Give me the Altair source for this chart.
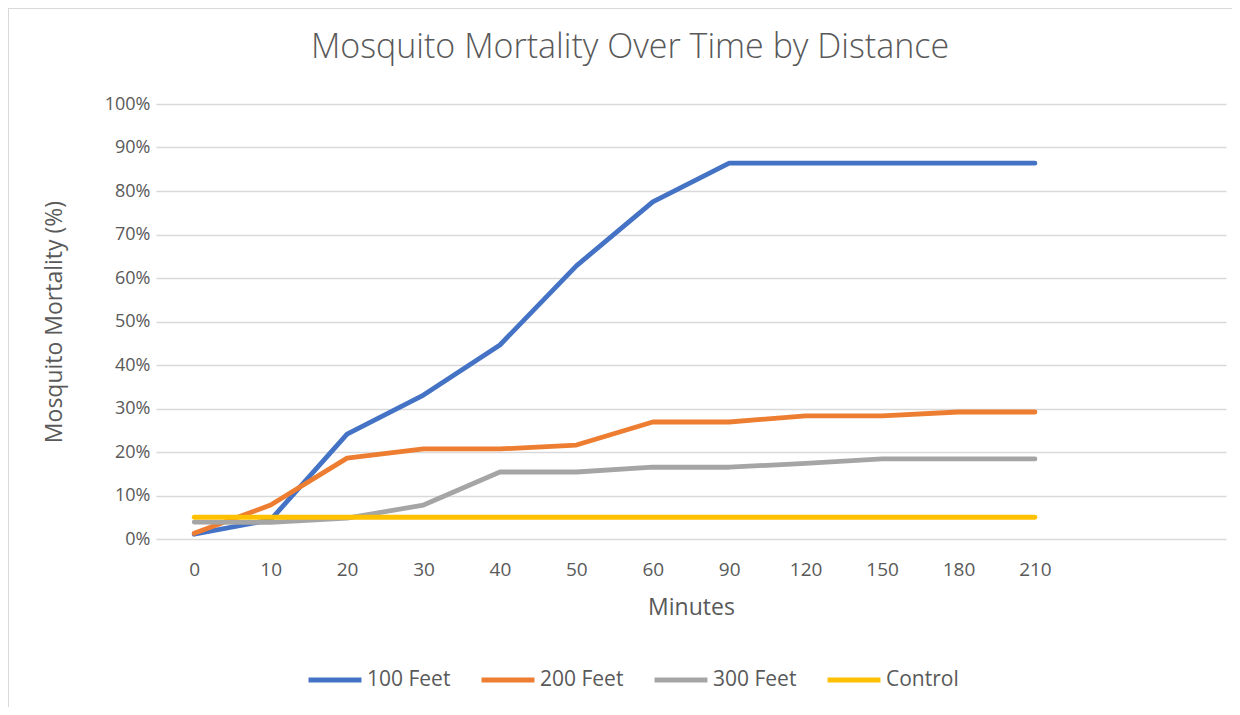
import altair as alt
import pandas as pd

minutes = ["0", "10", "20", "30", "40", "50", "60", "90", "120", "150", "180", "210"]
spare_slots = [" ", "  "]
series_names = ["100 Feet", "200 Feet", "300 Feet", "Control"]
feet100 = [0.011, 0.044, 0.241, 0.331, 0.446, 0.628, 0.775, 0.864, 0.864, 0.864, 0.864, 0.864]
feet200 = [0.013, 0.078, 0.186, 0.207, 0.207, 0.216, 0.269, 0.269, 0.283, 0.283, 0.292, 0.292]
feet300 = [0.039, 0.038, 0.048, 0.078, 0.154, 0.154, 0.165, 0.165, 0.174, 0.184, 0.184, 0.184]
control = [0.05, 0.05, 0.05, 0.05, 0.05, 0.05, 0.05, 0.05, 0.05, 0.05, 0.05, 0.05]
colors = ["#4472C4", "#ED7D31", "#A5A5A5", "#FFC000"]
y_ticks = [0, 0.1, 0.2, 0.3, 0.4, 0.5, 0.6, 0.7, 0.8, 0.9, 1.0]
chart_title = "Mosquito Mortality Over Time by Distance"

rows = []
for name, vals in zip(series_names, [feet100, feet200, feet300, control]):
    for m, v in zip(minutes, vals):
        rows.append({"Minutes": m, "Series": name, "Value": v})
df = pd.DataFrame(rows)

W, H = 1070, 435
PAD = {"left": 148, "top": 96, "right": 6, "bottom": 168}
FONT = "Open Sans"
TXT = "#595959"

lines = alt.Chart(df).mark_line(strokeWidth=4.8, strokeCap="round", strokeJoin="round").encode(
    x=alt.X("Minutes:N", sort=minutes,
            scale=alt.Scale(domain=minutes + spare_slots, type="point", padding=0.5),
            axis=alt.Axis(title="Minutes", labelAngle=0, ticks=False, tickSize=0, domain=False,
                          grid=False, labelPadding=21, titlePadding=17,
                          labelFontSize=19, titleFontSize=23, labelColor=TXT, titleColor=TXT,
                          labelFont=FONT, titleFont=FONT, titleFontWeight="normal")),
    y=alt.Y("Value:Q", scale=alt.Scale(domain=[0, 1], nice=False),
            axis=alt.Axis(title="Mosquito Mortality (%)", format=".0%", values=y_ticks,
                          ticks=False, tickSize=0, domain=False, grid=True,
                          gridColor="#D9D9D9", gridWidth=1.3, labelPadding=6, titlePadding=38,
                          labelFontSize=18, titleFontSize=23, labelColor=TXT, titleColor=TXT,
                          labelFont=FONT, titleFont=FONT, titleFontWeight="normal")),
    color=alt.Color("Series:N", scale=alt.Scale(domain=series_names, range=colors),
                    legend=alt.Legend(title=None, orient="none", direction="horizontal",
                                      legendX=150, legendY=547, symbolType="stroke",
                                      symbolSize=2800, symbolStrokeWidth=4.8,
                                      labelFontSize=21, labelFont=FONT, labelColor=TXT,
                                      labelOffset=3, columnPadding=20)),
)

frame = pd.DataFrame({"k": [0]})
title_df = pd.DataFrame({"t": [chart_title]})
title_mark = alt.Chart(title_df).mark_text(font=FONT, fontSize=34, fontWeight=300, color=TXT,
                                           align="center", baseline="middle").encode(
    text="t:N", x=alt.value(630 - 156), y=alt.value(48 - 104))
left_border = alt.Chart(frame).mark_rule(color="#D9D9D9", strokeWidth=1).encode(
    x=alt.value(-147.5), y=alt.value(-96), y2=alt.value(H + 168))
top_border = alt.Chart(frame).mark_rule(color="#D9D9D9", strokeWidth=1).encode(
    x=alt.value(-148), x2=alt.value(W + 6), y=alt.value(-95.5))

chart = alt.layer(lines, title_mark, left_border, top_border).properties(
    width=W, height=H,
    autosize=alt.AutoSizeParams(type="none"),
    padding=PAD,
).configure_view(stroke=None)

chart.save("out.html", embed_options={"renderer": "svg", "actions": False})
